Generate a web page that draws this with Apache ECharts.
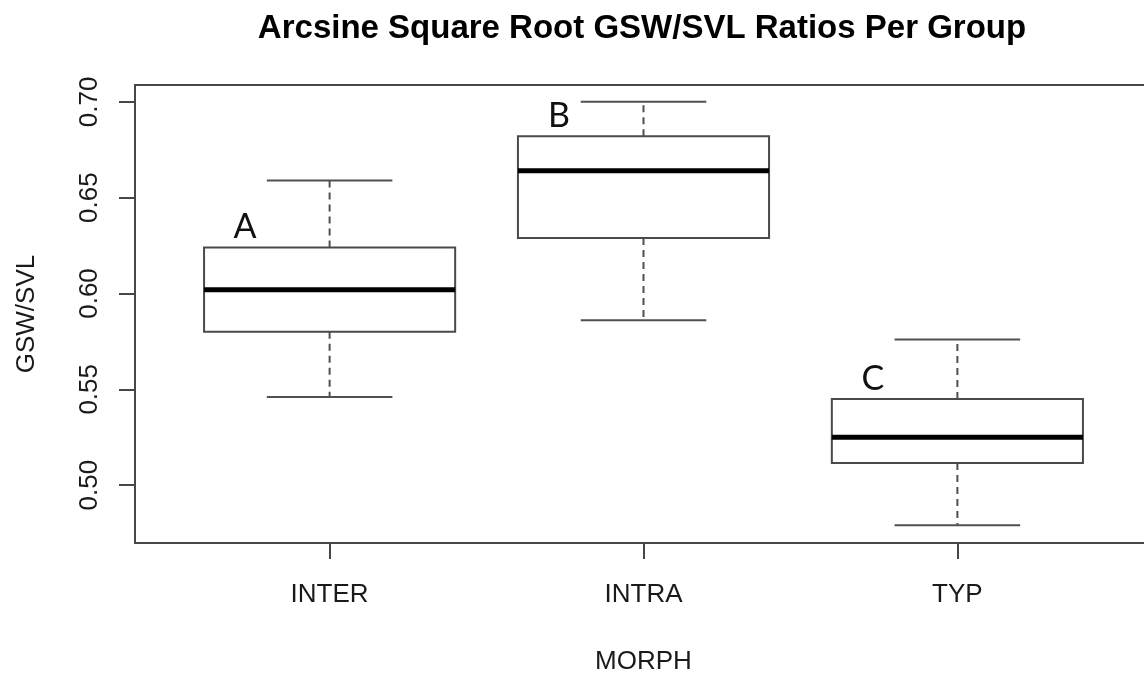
<!DOCTYPE html>
<html>
<head>
<meta charset="utf-8">
<title>Arcsine Square Root GSW/SVL Ratios Per Group</title>
<script src="https://cdn.jsdelivr.net/npm/echarts@6/dist/echarts.min.js"></script>
<style>
  html, body { margin: 0; padding: 0; background: #fff; overflow: hidden; }
  #chart { width: 1144px; height: 673px; }
</style>
</head>
<body>
<div id="chart"></div>
<script>
// Five-number summaries per morph group (arcsine square-root transformed GSW/SVL)
const categories   = ['INTER', 'INTRA', 'TYP'];
const whiskerLow   = [0.546, 0.586, 0.479];
const quartile1    = [0.580, 0.629, 0.5115];
const medians      = [0.602, 0.664, 0.525];
const quartile3    = [0.624, 0.682, 0.545];
const whiskerHigh  = [0.659, 0.700, 0.576];
const groupLetters = ['A', 'B', 'C'];
const yTicks       = [0.50, 0.55, 0.60, 0.65, 0.70];
const xTicks       = [1, 2, 3];

const labelFont = 'Liberation Sans, Arial, sans-serif';
const ink = '#1a1a1a';
const frame = '#474747';

const boxData = categories.map((c, i) => [
  i + 1, whiskerLow[i], quartile1[i], medians[i], quartile3[i], whiskerHigh[i], i
]);

function renderBox(params, api) {
  const x = api.value(0);
  const lo = api.coord([x, api.value(1)]);
  const q1 = api.coord([x, api.value(2)]);
  const md = api.coord([x, api.value(3)]);
  const q3 = api.coord([x, api.value(4)]);
  const hi = api.coord([x, api.value(5)]);
  const boxW = api.size([0.8, 0])[0];
  const capW = boxW / 2;
  const cx = md[0];
  const left = cx - boxW / 2;
  const dashed = { stroke: '#505050', lineWidth: 2, lineDash: [7, 5] };
  const solid = { stroke: '#505050', lineWidth: 2 };
  return {
    type: 'group',
    children: [
      { type: 'line', shape: { x1: cx, y1: q3[1], x2: cx, y2: hi[1] }, style: dashed },
      { type: 'line', shape: { x1: cx, y1: q1[1], x2: cx, y2: lo[1] }, style: dashed },
      { type: 'line', shape: { x1: cx - capW / 2, y1: hi[1], x2: cx + capW / 2, y2: hi[1] }, style: solid },
      { type: 'line', shape: { x1: cx - capW / 2, y1: lo[1], x2: cx + capW / 2, y2: lo[1] }, style: solid },
      {
        type: 'rect',
        shape: { x: left, y: q3[1], width: boxW, height: q1[1] - q3[1] },
        style: { fill: '#fff', stroke: '#4a4a4a', lineWidth: 2 }
      },
      { type: 'line', shape: { x1: left, y1: md[1], x2: left + boxW, y2: md[1] }, style: { stroke: '#000', lineWidth: 5 } },
      {
        type: 'text',
        x: left + 41,
        y: q3[1] - 20,
        style: {
          text: groupLetters[api.value(6)],
          font: '34px Lato, "Open Sans", sans-serif',
          fill: '#111',
          align: 'center',
          verticalAlign: 'middle'
        }
      }
    ]
  };
}

const chart = echarts.init(document.getElementById('chart'), null, { renderer: 'canvas', width: 1144, height: 673 });
chart.setOption({
  animation: false,
  backgroundColor: '#fff',
  // plot region runs slightly past the right edge of the canvas
  grid: {
    left: 135, top: 85, width: 1017, height: 458,
    outerBoundsMode: 'none',
    containLabel: false,
    show: true, borderColor: frame, borderWidth: 2, backgroundColor: 'transparent'
  },
  graphic: [{
    type: 'text',
    x: 642,
    y: 29,
    style: {
      text: 'Arcsine Square Root GSW/SVL Ratios Per Group',
      font: 'bold 33px ' + labelFont,
      fill: '#000',
      align: 'center',
      verticalAlign: 'middle'
    }
  }],
  xAxis: {
    type: 'value',
    min: 0.38,
    max: 3.62,
    name: 'MORPH',
    nameLocation: 'middle',
    nameGap: 106,
    nameTextStyle: { fontFamily: labelFont, fontSize: 26, color: ink },
    axisLine: { show: false },
    splitLine: { show: false },
    axisTick: { show: true, customValues: xTicks, length: 16, lineStyle: { color: frame, width: 2 } },
    axisLabel: {
      customValues: xTicks,
      formatter: v => categories[Math.round(v) - 1],
      margin: 39,
      fontFamily: labelFont, fontSize: 26, color: ink, lineHeight: 26
    }
  },
  yAxis: {
    type: 'value',
    min: 0.4698,
    max: 0.7088,
    name: 'GSW/SVL',
    nameLocation: 'middle',
    nameRotate: 90,
    nameGap: 95,
    nameTextStyle: { fontFamily: labelFont, fontSize: 26, color: ink },
    axisLine: { show: false },
    splitLine: { show: false },
    axisTick: { show: true, customValues: yTicks, length: 16, lineStyle: { color: frame, width: 2 } },
    axisLabel: {
      customValues: yTicks,
      rotate: 90,
      formatter: v => v.toFixed(2),
      margin: 32,
      fontFamily: labelFont, fontSize: 26, color: ink
    }
  },
  series: [{
    type: 'custom',
    renderItem: renderBox,
    data: boxData,
    encode: { x: 0, y: [1, 2, 3, 4, 5] },
    clip: false
  }]
});
</script>
</body>
</html>
